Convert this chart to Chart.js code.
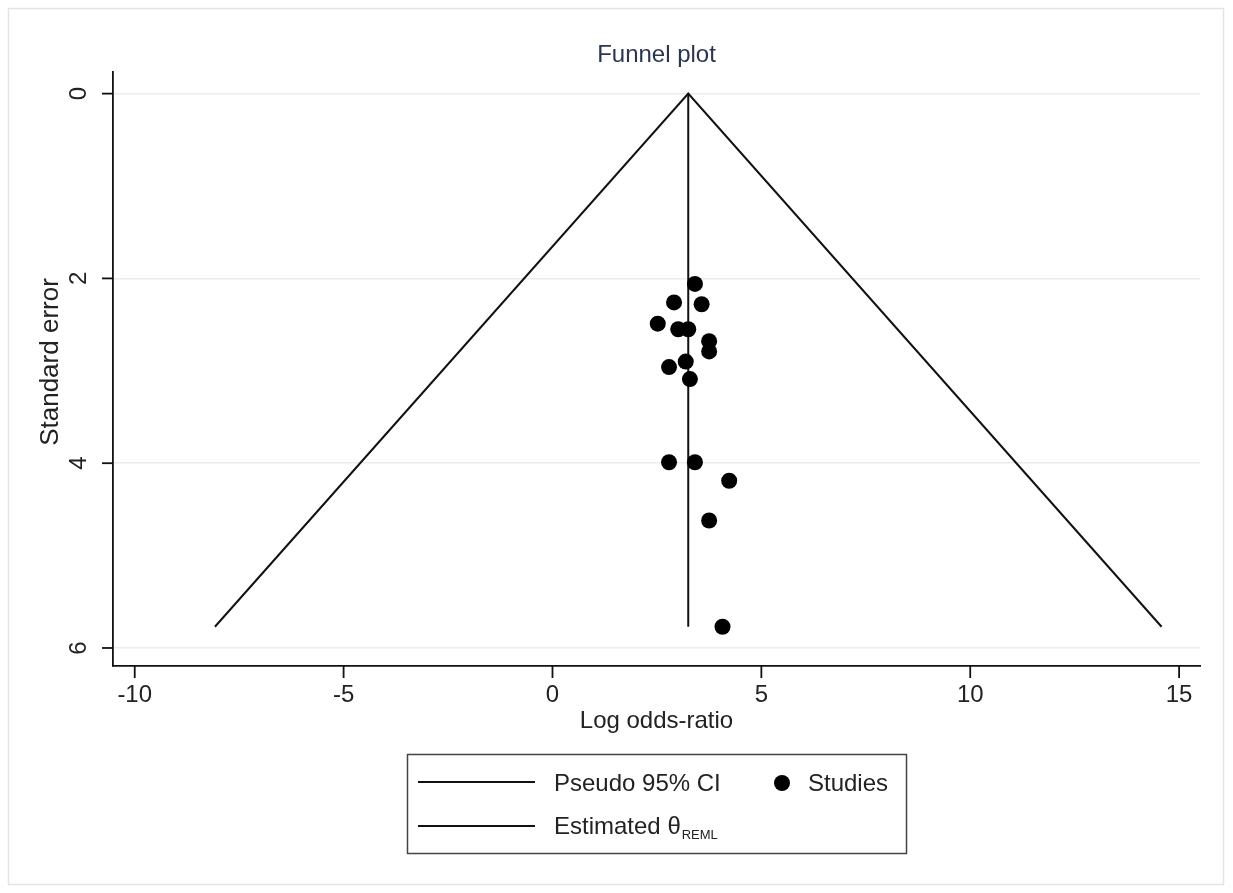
<!DOCTYPE html>
<html>
<head>
<meta charset="utf-8">
<title>Funnel plot</title>
<script src="https://cdn.jsdelivr.net/npm/chart.js@4.4.1/dist/chart.umd.min.js"></script>
<style>
  html, body { margin: 0; padding: 0; background: #fff; }
  #wrap { width: 1233px; height: 893px; position: relative; }
</style>
</head>
<body>
<div id="wrap"><canvas id="funnel" width="1233" height="893"></canvas></div>
<script>
'use strict';

// ── Data ──────────────────────────────────────────────────────
const studyLogOR = [3.41, 2.91, 3.57, 2.52, 3.01, 3.25, 3.75, 3.75, 2.79, 3.19, 3.29, 2.79, 3.41, 4.23, 3.75, 4.07];
const studySE    = [2.06, 2.26, 2.28, 2.49, 2.55, 2.55, 2.68, 2.79, 2.96, 2.90, 3.09, 3.99, 3.99, 4.19, 4.62, 5.77];

// pseudo 95% CI funnel (left bottom, apex, right bottom)
const ciX = [-8.08, 3.25, 14.58];
const ciY = [5.77, 0, 5.77];

// estimated theta (REML) vertical line
const thetaX = [3.25, 3.25];
const thetaY = [0, 5.77];

const xTicks = [-10, -5, 0, 5, 10, 15];
const yTicks = [0, 2, 4, 6];

// ── Styling constants ─────────────────────────────────────────
const FONT  = "'Liberation Sans', Arial, sans-serif";
const INK   = '#111111';
const TEXT  = '#222222';
const GRID  = '#ececec';
const TITLE = '#2a3550';

Chart.defaults.font.family = FONT;

// ── Stata-style axes, titles, legend and frame ────────────────
const stataDecor = {
  id: 'stataDecor',
  beforeDraw(chart) {
    const { ctx } = chart;
    ctx.save();
    ctx.fillStyle = '#fff';
    ctx.fillRect(0, 0, chart.width, chart.height);
    ctx.strokeStyle = '#e4e4e4';
    ctx.lineWidth = 1.5;
    ctx.strokeRect(8.5, 8.5, 1215, 876);
    ctx.restore();
  },
  afterDraw(chart) {
    const { ctx, chartArea: a } = chart;
    const xs = chart.scales.x;
    const ys = chart.scales.y;
    ctx.save();
    ctx.strokeStyle = INK;
    ctx.lineWidth = 1.8;
    ctx.fillStyle = TEXT;

    // x ticks + labels
    ctx.font = `24px ${FONT}`;
    ctx.textAlign = 'center';
    ctx.textBaseline = 'middle';
    xTicks.forEach(v => {
      const px = xs.getPixelForValue(v);
      ctx.beginPath();
      ctx.moveTo(px, a.bottom);
      ctx.lineTo(px, a.bottom + 12);
      ctx.stroke();
      ctx.fillText(String(v), px, a.bottom + 29);
    });

    // y ticks + rotated labels
    yTicks.forEach(v => {
      const py = ys.getPixelForValue(v);
      ctx.beginPath();
      ctx.moveTo(a.left - 11, py);
      ctx.lineTo(a.left, py);
      ctx.stroke();
      ctx.save();
      ctx.translate(a.left - 34, py);
      ctx.rotate(-Math.PI / 2);
      ctx.fillText(String(v), 0, 0);
      ctx.restore();
    });

    // axis titles
    ctx.fillText('Log odds-ratio', (a.left + a.right) / 2, a.bottom + 55);
    ctx.save();
    ctx.translate(51, 362);
    ctx.rotate(-Math.PI / 2);
    ctx.font = `26px ${FONT}`;
    ctx.fillText('Standard error', 0, 0);
    ctx.restore();

    // chart title
    ctx.fillStyle = TITLE;
    ctx.font = `24px ${FONT}`;
    ctx.fillText('Funnel plot', (a.left + a.right) / 2, 55);

    // legend box
    ctx.strokeStyle = '#444';
    ctx.lineWidth = 1.5;
    ctx.strokeRect(407.5, 754.5, 499, 99);
    ctx.strokeStyle = INK;
    ctx.lineWidth = 1.8;
    [782, 826].forEach(y => {
      ctx.beginPath();
      ctx.moveTo(418, y);
      ctx.lineTo(535, y);
      ctx.stroke();
    });
    ctx.fillStyle = TEXT;
    ctx.textAlign = 'left';
    ctx.font = `24px ${FONT}`;
    ctx.fillText('Pseudo 95% CI', 554, 784);
    ctx.fillText('Studies', 808, 784);
    const est = 'Estimated θ';
    ctx.fillText(est, 554, 827);
    const w = ctx.measureText(est).width;
    ctx.font = `13px ${FONT}`;
    ctx.fillText('REML', 554 + w + 1, 835);

    ctx.fillStyle = '#000';
    ctx.beginPath();
    ctx.arc(782, 783, 8, 0, Math.PI * 2);
    ctx.fill();

    ctx.restore();
  }
};

// ── Chart ─────────────────────────────────────────────────────
const ctx = document.getElementById('funnel').getContext('2d');

new Chart(ctx, {
  type: 'scatter',
  data: {
    datasets: [
      {
        label: 'Studies',
        data: studyLogOR.map((x, i) => ({ x, y: studySE[i] })),
        backgroundColor: '#000',
        borderWidth: 0,
        pointRadius: 8,
        pointHoverRadius: 8,
      },
      {
        label: 'Pseudo 95% CI',
        data: ciX.map((x, i) => ({ x, y: ciY[i] })),
        showLine: true,
        borderColor: INK,
        borderWidth: 2,
        pointRadius: 0,
        fill: false,
      },
      {
        label: 'Estimated θ REML',
        data: thetaX.map((x, i) => ({ x, y: thetaY[i] })),
        showLine: true,
        borderColor: INK,
        borderWidth: 2,
        pointRadius: 0,
        fill: false,
      },
    ],
  },
  options: {
    responsive: false,
    animation: false,
    devicePixelRatio: 1,
    layout: {
      autoPadding: false,
      padding: { left: 113, top: 72, right: 33, bottom: 227 },
    },
    plugins: {
      legend: { display: false },
      tooltip: { enabled: false },
      title: { display: false },
    },
    scales: {
      x: {
        type: 'linear',
        min: -10.52,
        max: 15.5,
        afterBuildTicks: s => { s.ticks = xTicks.map(v => ({ value: v })); },
        ticks: { display: false },
        grid: { display: false, drawTicks: false },
        border: { display: true, color: INK, width: 1.8 },
      },
      y: {
        type: 'linear',
        reverse: true,
        min: -0.234,
        max: 6.195,
        afterBuildTicks: s => { s.ticks = yTicks.map(v => ({ value: v })); },
        ticks: { display: false },
        grid: { display: true, color: GRID, lineWidth: 1.5, drawTicks: false },
        border: { display: true, color: INK, width: 1.8 },
      },
    },
  },
  plugins: [stataDecor],
});
</script>
</body>
</html>
